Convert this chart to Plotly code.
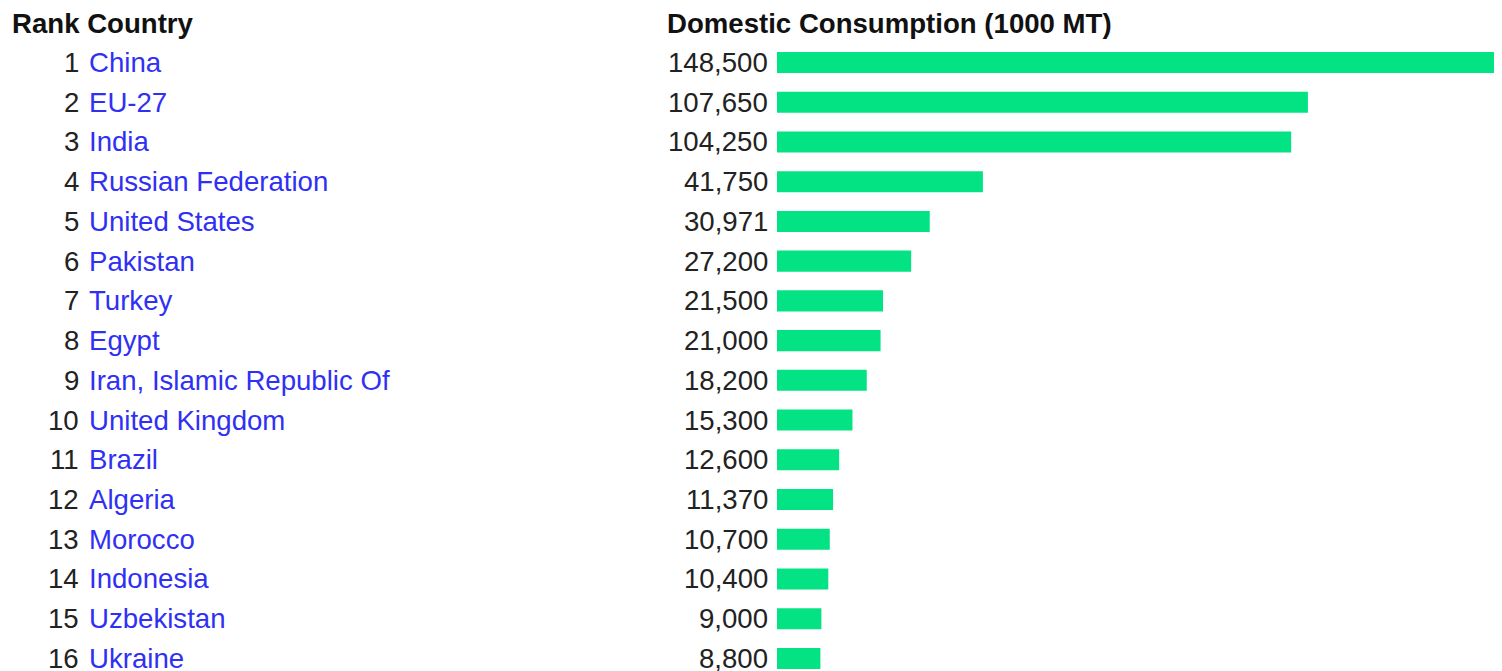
import plotly.graph_objects as go

ranks = list(range(1, 17))
countries = ["China", "EU-27", "India", "Russian Federation", "United States", "Pakistan",
             "Turkey", "Egypt", "Iran, Islamic Republic Of", "United Kingdom", "Brazil",
             "Algeria", "Morocco", "Indonesia", "Uzbekistan", "Ukraine"]
consumption = [148500, 107650, 104250, 41750, 30971, 27200, 21500, 21000, 18200,
               15300, 12600, 11370, 10700, 10400, 9000, 8800]
header_left = "Rank Country"
header_right = "Domestic Consumption (1000 MT)"

# page has an 8px body margin; figure sized to fill the rest of the window
W, H = 1494, 663
FONT = "Liberation Sans, Arial, sans-serif"
FS = 27.6
idx = list(range(len(countries)))

fig = go.Figure()
fig.add_trace(go.Bar(
    x=consumption, y=idx, orientation="h",
    marker=dict(color="#04E383", line=dict(width=0)),
    width=0.53, hoverinfo="skip",
))

ann = []
for i, (r, c, v) in enumerate(zip(ranks, countries, consumption)):
    ann.append(dict(x=73 / W, y=i, xref="paper", yref="y", text=str(r), showarrow=False,
                    xanchor="right", yanchor="middle", font=dict(family=FONT, size=FS, color="#222222")))
    ann.append(dict(x=79 / W, y=i, xref="paper", yref="y", text=c, showarrow=False,
                    xanchor="left", yanchor="middle", font=dict(family=FONT, size=FS, color="#3030F4")))
    ann.append(dict(x=762 / W, y=i, xref="paper", yref="y", text=f"{v:,}", showarrow=False,
                    xanchor="right", yanchor="middle", font=dict(family=FONT, size=FS, color="#222222")))
ann.append(dict(x=2 / W, y=1 - 15 / H, xref="paper", yref="paper", text=f"<b>{header_left}</b>",
                showarrow=False, xanchor="left", yanchor="middle",
                font=dict(family=FONT, size=FS, color="#111111")))
ann.append(dict(x=657 / W, y=1 - 15 / H, xref="paper", yref="paper", text=f"<b>{header_right}</b>",
                showarrow=False, xanchor="left", yanchor="middle",
                font=dict(family=FONT, size=FS, color="#111111")))

step = 39.73
top_val = -54.5 / step
bot_val = top_val + H / step

fig.update_layout(
    width=W, height=H, autosize=False,
    margin=dict(l=0, r=0, t=0, b=0),
    paper_bgcolor="white", plot_bgcolor="white",
    showlegend=False,
    annotations=ann,
    xaxis=dict(domain=[769 / W, 1], range=[0, 147000], visible=False, fixedrange=True),
    yaxis=dict(range=[bot_val, top_val], visible=False, fixedrange=True),
)

fig.write_html("out.html", config={"displayModeBar": False})
